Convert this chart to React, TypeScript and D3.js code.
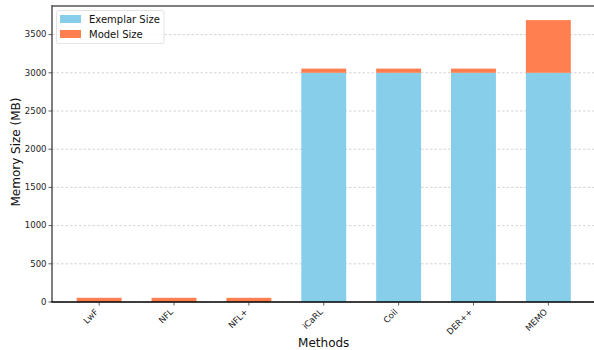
import React from "react";
import * as d3 from "d3";

const methods = ["LwF", "NFL", "NFL+", "iCaRL", "Coil", "DER++", "MEMO"];
const exemplarSize = [0, 0, 0, 3000, 3000, 3000, 3000];
const modelSize = [55, 55, 55, 55, 55, 55, 690];
const yTicks = [0, 500, 1000, 1500, 2000, 2500, 3000, 3500];
const seriesNames = ["Exemplar Size", "Model Size"];
const seriesColors = ["#87CEEB", "#FF7F50"];

const W = 594;
const H = 350;
const left = 52;
const right = 595.5;
const top = 6;
const bottom = 302;
const font = "DejaVu Sans, sans-serif";

export default function App() {
  const totals = methods.map((_, i) => exemplarSize[i] + modelSize[i]);
  const yMax = (d3.max(totals) as number) * 1.05;
  const x = d3.scaleLinear().domain([-0.63, methods.length - 1 + 0.63]).range([left, right]);
  const y = d3.scaleLinear().domain([0, yMax]).range([bottom, top]);
  const barW = x(0.6) - x(0);

  const stack = d3
    .stack<number>()
    .keys(["0", "1"])
    .value((i, k) => (k === "0" ? exemplarSize[i] : modelSize[i]));
  const layers = stack(methods.map((_, i) => i));

  return (
    <svg
      width={W}
      height={H}
      style={{ position: "absolute", left: 0, top: 0, display: "block", background: "#fff" }}
    >
      {/* horizontal grid */}
      {yTicks.map((t) => (
        <line
          key={"g" + t}
          x1={left}
          x2={right}
          y1={y(t)}
          y2={y(t)}
          stroke="#c8c8c8"
          strokeWidth={0.8}
          strokeDasharray="2.5,2"
        />
      ))}

      {/* stacked bars */}
      {layers.map((layer, li) => (
        <g key={"l" + li} fill={seriesColors[li]}>
          {layer.map((d, i) =>
            d[1] - d[0] > 0 ? (
              <rect
                key={i}
                x={x(i) - barW / 2}
                width={barW}
                y={y(d[1])}
                height={y(d[0]) - y(d[1])}
              />
            ) : null
          )}
        </g>
      ))}

      {/* spines */}
      <line x1={left} x2={right + 2} y1={top} y2={top} stroke="#808080" strokeWidth={2} />
      <line x1={left} x2={left} y1={top - 1} y2={bottom} stroke="#555" strokeWidth={1.5} />
      <line x1={left - 0.75} x2={right + 2} y1={bottom} y2={bottom} stroke="#000" strokeWidth={1.5} />

      {/* y axis */}
      {yTicks.map((t) => (
        <g key={"yt" + t}>
          <line x1={left - 3.5} x2={left} y1={y(t)} y2={y(t)} stroke="#333" strokeWidth={0.8} />
          <text
            x={left - 5.5}
            y={y(t)}
            dy="0.32em"
            textAnchor="end"
            fontSize={8.5}
            fontFamily={font}
            fill="#222"
          >
            {t}
          </text>
        </g>
      ))}

      {/* x axis */}
      {methods.map((m, i) => (
        <g key={"xt" + m}>
          <line x1={x(i)} x2={x(i)} y1={bottom} y2={bottom + 3.5} stroke="#333" strokeWidth={0.8} />
          <text
            transform={`translate(${x(i) - 3.5},${bottom + 7.5}) rotate(-45)`}
            textAnchor="end"
            dy="0.5em"
            fontSize={8.5}
            fontFamily={font}
            fill="#222"
          >
            {m}
          </text>
        </g>
      ))}

      <text
        x={(left + right) / 2}
        y={347}
        textAnchor="middle"
        fontSize={12}
        fontFamily={font}
        fill="#111"
      >
        Methods
      </text>
      <text
        transform={`translate(20,${(top + bottom) / 2 - 2}) rotate(-90)`}
        textAnchor="middle"
        fontSize={12}
        fontFamily={font}
        fill="#111"
      >
        Memory Size (MB)
      </text>

      {/* legend */}
      <g>
        <rect
          x={56.5}
          y={10.5}
          width={107.5}
          height={33}
          rx={2}
          fill="#fff"
          fillOpacity={0.85}
          stroke="#dcdcdc"
          strokeWidth={0.8}
        />
        {seriesNames.map((s, i) => (
          <g key={s}>
            <rect x={60} y={15 + i * 15} width={21} height={8} fill={seriesColors[i]} />
            <text
              x={89}
              y={19 + i * 15}
              dy="0.35em"
              fontSize={10}
              fontFamily={font}
              fill="#111"
            >
              {s}
            </text>
          </g>
        ))}
      </g>
    </svg>
  );
}
